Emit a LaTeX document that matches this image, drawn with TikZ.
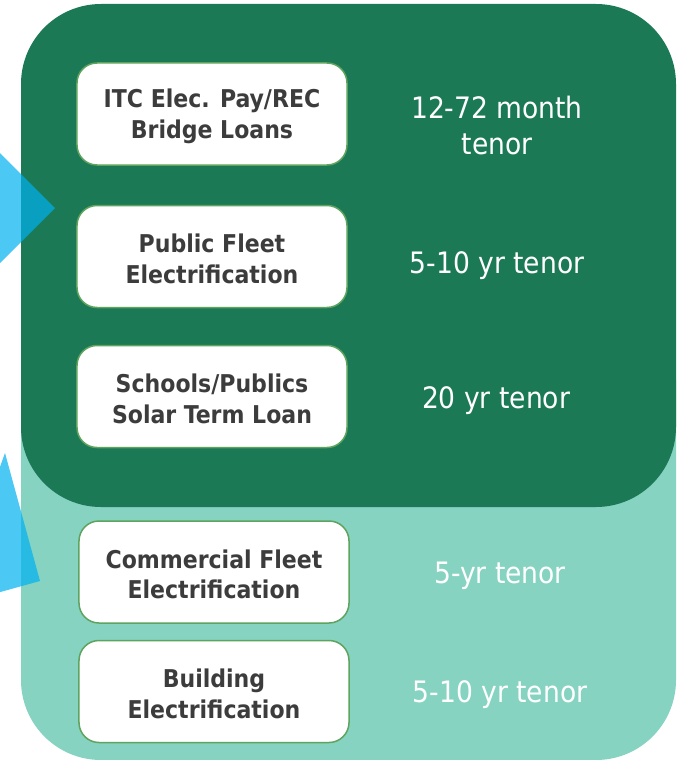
\documentclass[tikz,border=0pt]{standalone}
\usepackage{fontspec}
\setmainfont{DejaVu Sans Condensed}
\definecolor{darkgreen}{HTML}{1B7A55}
\definecolor{lightteal}{HTML}{86D3C2}
\definecolor{boxline}{HTML}{5EA35E}
\definecolor{boxtext}{HTML}{3C3C3C}
\definecolor{arrowblue}{HTML}{00B0F0}
\tikzset{
  loanbox/.style={draw=boxline, line width=1.5bp, fill=white, rounded corners=20bp,
    minimum width=270bp, minimum height=102bp, align=center, text=boxtext,
    font=\fontsize{24.5bp}{30.5bp}\selectfont\bfseries, inner sep=0pt},
  boxlabel/.style={text=boxtext, align=center, inner sep=0pt, yshift=-2.5bp,
    font=\fontsize{24.5bp}{30.5bp}\selectfont\bfseries},
  tenortext/.style={text=white, align=center, inner sep=0pt,
    font=\fontsize{29.5bp}{36.5bp}\selectfont},
  bluetri/.style={fill=arrowblue, fill opacity=0.7}
}
\begin{document}
\begin{tikzpicture}[x=1bp, y=-1bp]
\useasboundingbox (0,0) rectangle (679,760);
\begin{scope}
\clip (0,0) rectangle (679,760);
% light teal panel
\fill[lightteal, rounded corners=80bp] (21,300) rectangle (676,760);
% dark green panel
\fill[darkgreen, rounded corners=80bp] (21,4) rectangle (676,507);
% blue triangles
\fill[bluetri] (-60,93) -- (55,208) -- (-60,323) -- cycle;
\fill[bluetri] (5,453) -- (40,581) -- (-50,606) -- cycle;
\end{scope}
% boxes
\node[loanbox] (b1) at (212,114) {};
\node[loanbox] (b2) at (212,256.5) {};
\node[loanbox] (b3) at (212,396.5) {};
\node[loanbox] (b4) at (214,572) {};
\node[loanbox] (b5) at (214,691.5) {};
\node[boxlabel] (l1) at (b1.center) {ITC Elec. Pay/REC\\Bridge Loans};
\node[boxlabel] (l2) at (b2.center) {Public Fleet\\Electrification};
\node[boxlabel] (l3) at (b3.center) {Schools/Publics\\Solar Term Loan};
\node[boxlabel] (l4) at (b4.center) {Commercial Fleet\\Electrification};
\node[boxlabel] (l5) at (b5.center) {Building\\Electrification};
% tenors
\node[tenortext] (t1) at (497,125.5) {12-72 month\\tenor};
\node[tenortext] (t2) at (497,266) {5-10 yr tenor};
\node[tenortext] (t3) at (496,401) {20 yr tenor};
\node[tenortext] (t4) at (500,576) {5-yr tenor};
\node[tenortext] (t5) at (500,695) {5-10 yr tenor};
\end{tikzpicture}
\end{document}
